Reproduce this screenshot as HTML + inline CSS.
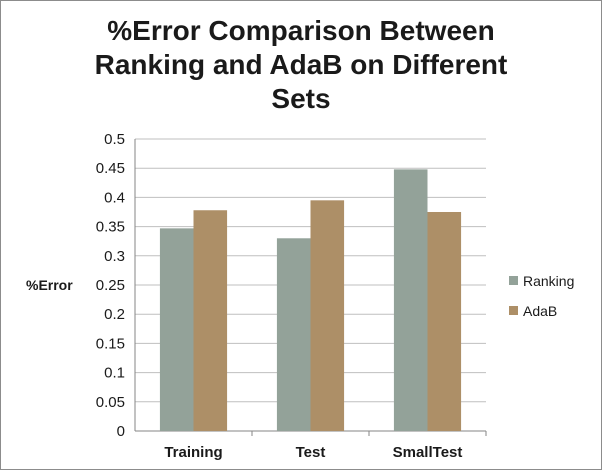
<!DOCTYPE html>
<html><head><meta charset="utf-8"><style>
body{margin:0;background:#fff}
#c{position:relative;width:600px;height:468px;border:1px solid #8c8c8c;background:#fff;font-family:"Liberation Sans",Arial,sans-serif;overflow:hidden}
#title{position:absolute;left:0;width:600px;top:13px;text-align:center;font-weight:bold;font-size:28px;line-height:34px;color:#1a1a1a}
</style></head><body>
<div id="c">
<div id="title">%Error Comparison Between<br>Ranking and AdaB on Different<br>Sets</div>
<svg id="s" width="600" height="468" style="position:absolute;left:0;top:0"></svg>
</div>
<script>
const categories=["Training","Test","SmallTest"];
const rankingValues=[0.347,0.330,0.448];
const adabValues=[0.378,0.395,0.375];
const yTicks=[0,0.05,0.1,0.15,0.2,0.25,0.3,0.35,0.4,0.45,0.5];
const seriesNames=["Ranking","AdaB"];
const colors=["#93a299","#ad8f67"];
const NS="http://www.w3.org/2000/svg";
const svg=document.getElementById('s');
const L=134,R=485,T=138,B=430;
const y=v=>B-(v/0.5)*(B-T);
const bw=(R-L)/categories.length;
const x=i=>L+i*bw;
function mk(t,a){const e=document.createElementNS(NS,t);for(const k in a)e.setAttribute(k,a[k]);svg.appendChild(e);return e;}
yTicks.forEach(v=>{
 const g=mk('line',{x1:L,x2:R,y1:y(v),y2:y(v),stroke:v===0?'#868686':'#bfbfbf','stroke-width':1});
 
 
 const t=mk('text',{x:L-10,y:y(v)+5,'text-anchor':'end','font-size':15,fill:'#1a1a1a','font-family':'Liberation Sans, sans-serif'});
 t.textContent=String(v);
 
 
});
const ax=mk('line',{x1:L,x2:L,y1:T,y2:B,stroke:'#868686'});


categories.forEach((c,i)=>{
 const tk=mk('line',{x1:x(i+1),x2:x(i+1),y1:B,y2:B+5,stroke:'#868686'});
 
 
 const w=bw*0.287,gap=(bw-2*w)/2;
 [rankingValues,adabValues].forEach((arr,k)=>{
  const r=mk('rect',{x:x(i)+gap+k*w,y:y(arr[i]),width:w,height:B-y(arr[i]),fill:colors[k]});
  
  
 });
 const t=mk('text',{x:x(i)+bw/2,y:B+26,'text-anchor':'middle','font-size':15,'font-weight':'bold',fill:'#1a1a1a','font-family':'Liberation Sans, sans-serif'});
 t.textContent=c;
 
 
});
const yt=mk('text',{x:25,y:289,'font-size':14,'font-weight':'bold',fill:'#1a1a1a','font-family':'Liberation Sans, sans-serif'});
yt.textContent='%Error';


seriesNames.forEach((n,k)=>{
 const ly=280+k*30;
 const r=mk('rect',{x:508,y:ly-5,width:9,height:9,fill:colors[k]});
 
 
 const t=mk('text',{x:522,y:ly+5,'font-size':14,fill:'#1a1a1a','font-family':'Liberation Sans, sans-serif'});
 t.textContent=n;
 
 
});
</script>
</body></html>
